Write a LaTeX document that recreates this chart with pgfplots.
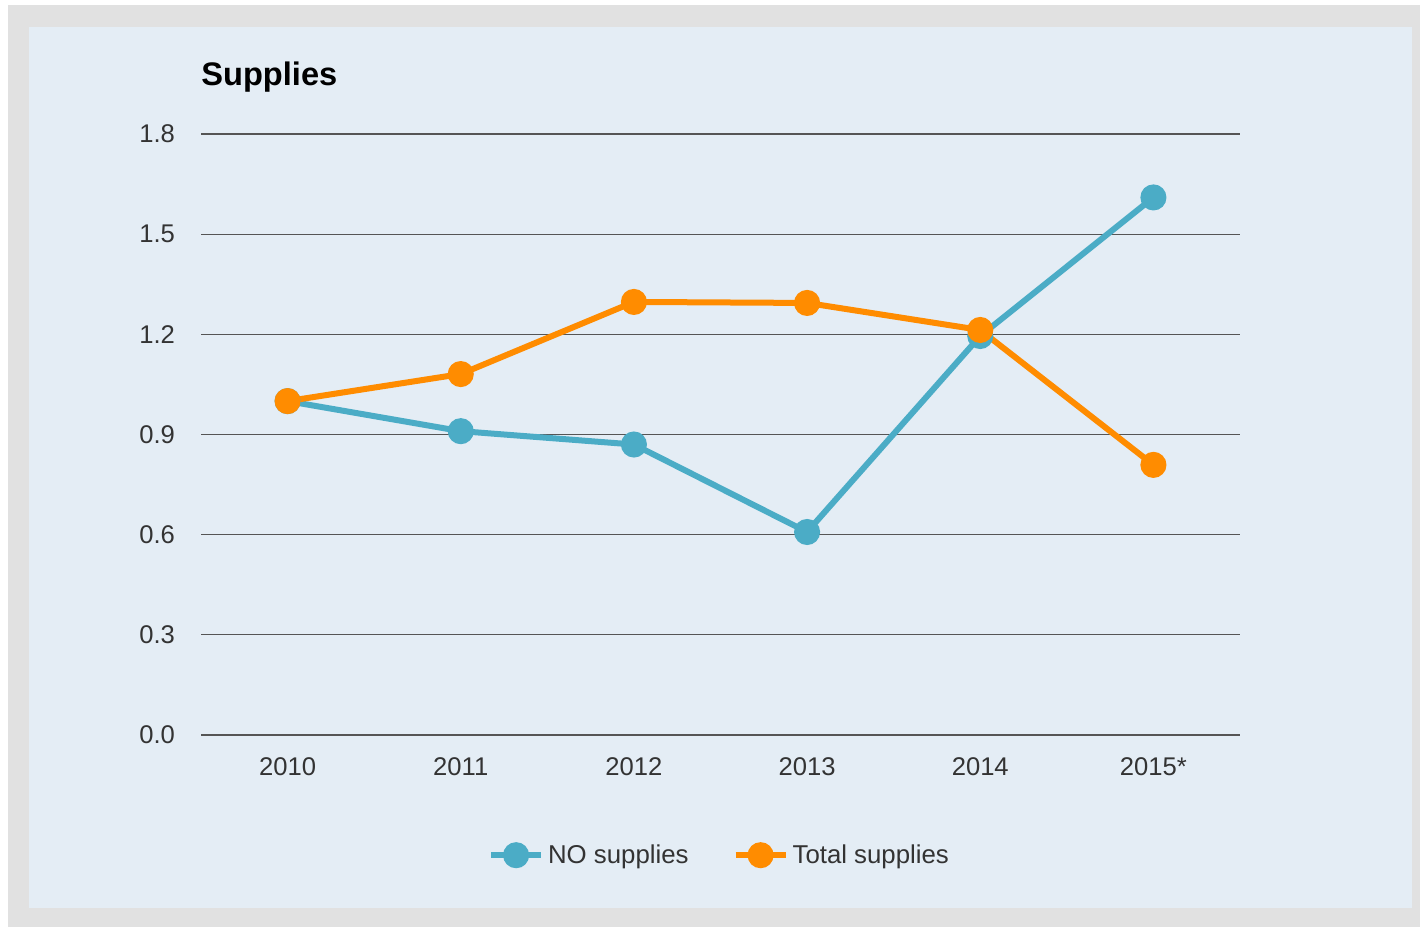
\documentclass[border=0pt]{standalone}
\usepackage{fontspec}
\setmainfont{Liberation Sans}
\usepackage{pgfplots}
\pgfplotsset{compat=1.18}
\definecolor{outer}{HTML}{E1E1E1}
\definecolor{panel}{HTML}{E4EDF5}
\definecolor{noblue}{HTML}{4BACC6}
\definecolor{totorange}{HTML}{FF8C00}
\definecolor{gridc}{HTML}{555555}
\definecolor{tickc}{HTML}{333333}
\begin{document}
\begin{tikzpicture}
\fill[white] (-100.5bp,-96bp) rectangle (609.5bp,367.5bp);
\fill[outer] (-96.5bp,-96bp) rectangle (609.5bp,365bp);
\fill[panel] (-86bp,-86.5bp) rectangle (605.5bp,354bp);
\node[anchor=base west,font=\fontsize{16.3bp}{18bp}\selectfont\bfseries,inner sep=0pt] at (0bp,324.5bp) {Supplies};
\begin{axis}[
  at={(0,0)}, anchor=south west,
  scale only axis,
  width=519.5bp, height=300.5bp,
  xmin=-0.5, xmax=5.5, ymin=0, ymax=1.8,
  axis line style={draw=none},
  xtick={0,1,2,3,4,5},
  xticklabels={2010,2011,2012,2013,2014,2015*},
  ytick={0,0.3,0.6,0.9,1.2,1.5,1.8},
  yticklabel style={/pgf/number format/fixed,/pgf/number format/fixed zerofill,/pgf/number format/precision=1},
  /pgf/number format/assume math mode=true,
  major tick length=0pt,
  ymajorgrids,
  grid style={gridc,line width=0.65bp},
  tick label style={font=\fontsize{12.8bp}{14bp}\selectfont,text=tickc},
  yticklabel style={xshift=-9.5bp},
  xticklabel style={yshift=-8bp},
  clip=false,
  legend columns=2,
  legend style={at={(0.5,-0.2)},anchor=center,draw=none,fill=none,
    font=\fontsize{12.9bp}{14bp}\selectfont,text=tickc,
    /tikz/every even column/.append style={column sep=20bp}},
  legend image code/.code={\draw[mark repeat=2,mark phase=2,#1] plot coordinates {(0bp,0bp) (12.5bp,0bp) (25bp,0bp)};},
]
\addplot[noblue,line width=3bp,mark=*,mark size=5bp,mark options={solid,fill=noblue,draw=none}] coordinates {
(0,1.00) (1,0.91) (2,0.87) (3,0.608) (4,1.195) (5,1.61)};
\addlegendentry{NO supplies}
\addplot[totorange,line width=3bp,mark=*,mark size=5bp,mark options={solid,fill=totorange,draw=none}] coordinates {
(0,1.00) (1,1.081) (2,1.297) (3,1.294) (4,1.213) (5,0.809)};
\addlegendentry{Total supplies}
\end{axis}
\end{tikzpicture}
\end{document}
